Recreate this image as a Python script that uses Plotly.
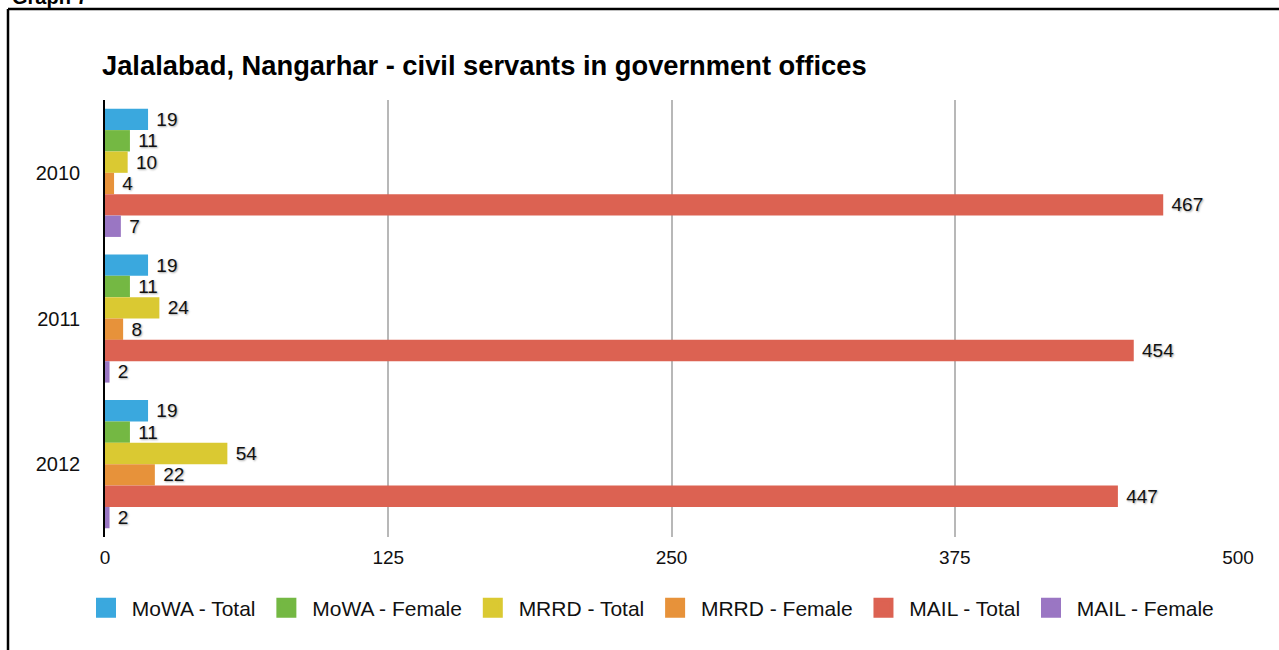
import plotly.graph_objects as go

years = ["2010", "2011", "2012"]
series_names = ["MoWA - Total", "MoWA - Female", "MRRD - Total", "MRRD - Female", "MAIL - Total", "MAIL - Female"]
mowa_total = [19, 19, 19]
mowa_female = [11, 11, 11]
mrrd_total = [10, 24, 54]
mrrd_female = [4, 8, 22]
mail_total = [467, 454, 447]
mail_female = [7, 2, 2]
series_values = [mowa_total, mowa_female, mrrd_total, mrrd_female, mail_total, mail_female]
colors = ["#3aa8de", "#74b843", "#dac932", "#e7923a", "#dc6252", "#9a76c3"]
x_ticks = [0, 125, 250, 375, 500]
title_text = "Jalalabad, Nangarhar - civil servants in government offices"

W, H = 1279, 650
L, R, T, B = 105, 1238, 100, 537
pw, ph = R - L, B - T

FONT = "Liberation Sans, Arial, Helvetica, sans-serif"
NB = "\u00a0"

fig = go.Figure()
for name, vals, col in zip(series_names, series_values, colors):
    fig.add_trace(go.Bar(
        y=years, x=vals, name=name, orientation="h",
        marker=dict(color=col, line=dict(width=0)),
        text=vals, texttemplate=NB + "%{x}", textposition="outside",
        textfont=dict(size=19, color="#111111", family=FONT,
                      shadow="1px 1px 2px rgba(0,0,0,0.35)"),
        cliponaxis=False, constraintext="none",
        showlegend=False, hoverinfo="x+name",
    ))
for name, col in zip(series_names, colors):
    fig.add_trace(go.Scatter(
        x=[None], y=[None], mode="markers", name=NB + name + NB,
        marker=dict(symbol="square", size=16, color=col, line=dict(color=col, width=4)),
        showlegend=True,
    ))

def px_x(p):
    return (p - L) / pw

def px_y(p):
    return (B - p) / ph

fig.update_layout(
    width=W, height=H,
    margin=dict(l=L, r=W - R, t=T, b=H - B, pad=0),
    paper_bgcolor="white", plot_bgcolor="white",
    barmode="group", bargap=0.12, bargroupgap=0,
    font=dict(family=FONT, size=19, color="#111111"),
    title=dict(text="<b>" + title_text + "</b>", x=102 / W, xanchor="left",
               xref="container", y=1 - 65 / H, yref="container", yanchor="middle",
               font=dict(size=27.3, color="#000000", family=FONT)),
    xaxis=dict(range=[0, 500], tickvals=x_ticks, ticktext=[str(v) for v in x_ticks],
               showgrid=True, gridcolor="#b8b8b8", gridwidth=1.5, zeroline=False,
               showline=False, ticks="", tickfont=dict(size=19, family=FONT, color="#111111"),
               ticklabelstandoff=7, fixedrange=True),
    yaxis=dict(type="category", categoryorder="array", categoryarray=years,
               autorange="reversed", showgrid=False, zeroline=False,
               showline=True, linecolor="#000000", linewidth=1.5, layer="below traces",
               ticks="", tickfont=dict(size=20, family=FONT, color="#111111"),
               ticklabelstandoff=19, fixedrange=True),
    legend=dict(orientation="h", x=px_x(86), xanchor="left", y=px_y(608), yanchor="middle",
                font=dict(size=21, family=FONT, color="#111111"), bgcolor="rgba(0,0,0,0)",
                traceorder="normal"),
    shapes=[
        dict(type="line", xref="paper", yref="paper", x0=px_x(8), x1=px_x(W + 5),
             y0=px_y(9), y1=px_y(9), line=dict(color="#000000", width=2.5), layer="above"),
        dict(type="line", xref="paper", yref="paper", x0=px_x(8), x1=px_x(8),
             y0=px_y(9), y1=px_y(H + 5), line=dict(color="#000000", width=2.5), layer="above"),
    ],
    annotations=[
        dict(text="<b>Graph 7</b>", xref="paper", yref="paper", x=px_x(10), y=px_y(10),
             xanchor="left", yanchor="bottom", showarrow=False,
             font=dict(size=20, color="#000000", family=FONT)),
    ],
)

fig.write_html("out.html", config={"displayModeBar": False},
               post_script="document.body.style.margin='0px';")
